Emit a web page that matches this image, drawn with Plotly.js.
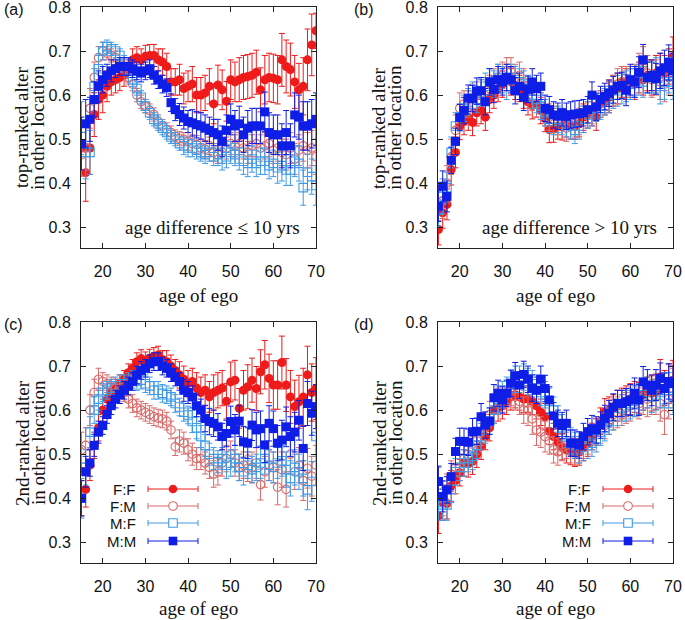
<!DOCTYPE html>
<html>
<head>
<meta charset="utf-8">
<script src="https://cdn.plot.ly/plotly-3.0.1.min.js"></script>
<style>html,body{margin:0;padding:0;background:#fff;}#chart{width:685px;height:620px;}</style>
</head>
<body>
<div id="chart"></div>
<script>
// ---------------- data ----------------
const ages = [15,16,17,18,19,20,21,22,23,24,25,26,27,28,29,30,31,32,33,34,35,36,37,38,39,40,41,42,43,44,45,46,47,48,49,50,51,52,53,54,55,56,57,58,59,60,61,62,63,64,65,66,67,68,69,70];
const seriesNames = ["F:F","F:M","M:F","M:M"];
const yTicks = [0.3,0.4,0.5,0.6,0.7,0.8];
const xTicks = [20,30,40,50,60,70];

// (a) top-ranked, age difference <= 10 yrs
const A_FF = [0.48,0.424,0.48,0.556,0.59,0.60,0.62,0.63,0.635,0.64, 0.645,0.655,0.68,0.685,0.68,0.688,0.69,0.69,0.68,0.675, 0.665,0.63,0.63,0.635,0.615,0.62,0.625,0.60,0.60,0.605, 0.62,0.58,0.623,0.612,0.586,0.635,0.63,0.635,0.64,0.642, 0.645,0.652,0.612,0.635,0.64,0.638,0.635,0.68,0.665,0.658, 0.63,0.612,0.62,0.68,0.714,0.746];
const A_FM = [0.465,0.48,0.57,0.64,0.685,0.70,0.695,0.69,0.685,0.67, 0.66,0.64,0.625,0.60,0.585,0.575,0.565,0.556,0.54,0.53, 0.522,0.515,0.506,0.502,0.50,0.495,0.49,0.488,0.48,0.477, 0.485,0.47,0.465,0.47,0.48,0.49,0.485,0.49,0.48,0.47, 0.485,0.49,0.48,0.485,0.49,0.475,0.48,0.47,0.465,0.48, 0.455,0.475,0.485,0.475,0.48,0.46];
const A_MF = [0.525,0.47,0.47,0.62,0.66,0.70,0.71,0.705,0.70,0.69, 0.675,0.655,0.635,0.615,0.595,0.575,0.56,0.545,0.535,0.525, 0.515,0.505,0.50,0.49,0.485,0.48,0.48,0.475,0.47,0.465, 0.47,0.46,0.465,0.455,0.46,0.47,0.465,0.455,0.45,0.445, 0.455,0.445,0.45,0.45,0.44,0.445,0.435,0.44,0.43,0.43, 0.45,0.445,0.39,0.425,0.415,0.395];
const A_MM = [0.49,0.535,0.545,0.59,0.62,0.635,0.645,0.655,0.66,0.665, 0.665,0.665,0.66,0.655,0.65,0.655,0.66,0.645,0.635,0.625, 0.617,0.583,0.567,0.556,0.548,0.54,0.537,0.533,0.53,0.525, 0.52,0.515,0.51,0.495,0.52,0.545,0.53,0.535,0.51,0.525, 0.53,0.53,0.53,0.562,0.515,0.51,0.51,0.485,0.515,0.485, 0.555,0.55,0.53,0.53,0.535,0.545];
const A_FF_e = [0.06,0.065,0.06,0.05,0.045,0.04,0.035,0.03,0.03,0.03, 0.025,0.025,0.025,0.025,0.025,0.025,0.025,0.025,0.025,0.03, 0.03,0.03,0.03,0.035,0.035,0.035,0.04,0.04,0.04,0.04, 0.04,0.045,0.045,0.045,0.045,0.045,0.045,0.05,0.05,0.05, 0.05,0.05,0.05,0.055,0.055,0.055,0.055,0.06,0.06,0.06, 0.06,0.06,0.065,0.07,0.07,0.04];
const A_FM_e = [0.05,0.05,0.045,0.035,0.025,0.02,0.015,0.015,0.015,0.015, 0.015,0.015,0.015,0.015,0.015,0.015,0.015,0.015,0.015,0.015, 0.015,0.015,0.015,0.015,0.015,0.02,0.02,0.02,0.02,0.02, 0.02,0.02,0.02,0.025,0.025,0.025,0.025,0.025,0.025,0.025, 0.025,0.03,0.03,0.03,0.03,0.03,0.03,0.03,0.035,0.035, 0.035,0.035,0.035,0.04,0.04,0.04];
const A_MF_e = [0.06,0.06,0.05,0.04,0.03,0.02,0.015,0.015,0.015,0.015, 0.015,0.015,0.015,0.015,0.015,0.015,0.015,0.015,0.015,0.015, 0.015,0.015,0.015,0.015,0.02,0.02,0.02,0.02,0.02,0.02, 0.02,0.02,0.025,0.025,0.025,0.025,0.025,0.025,0.03,0.03, 0.03,0.03,0.03,0.03,0.03,0.03,0.035,0.035,0.035,0.035, 0.035,0.04,0.04,0.04,0.04,0.045];
const A_MM_e = [0.06,0.055,0.05,0.04,0.035,0.03,0.025,0.025,0.02,0.02, 0.02,0.02,0.02,0.02,0.02,0.02,0.02,0.02,0.02,0.02, 0.02,0.02,0.025,0.025,0.025,0.025,0.03,0.03,0.03,0.03, 0.03,0.03,0.035,0.035,0.035,0.035,0.035,0.04,0.04,0.04, 0.04,0.04,0.04,0.045,0.045,0.045,0.045,0.05,0.05,0.05, 0.05,0.05,0.055,0.055,0.055,0.06];

// (b) top-ranked, age difference > 10 yrs
const B_FF = [0.295,0.333,0.352,0.431,0.47,0.529,0.54,0.55,0.538,0.56, 0.565,0.55,0.59,0.60,0.615,0.625,0.64,0.63,0.62,0.615, 0.60,0.585,0.576,0.58,0.565,0.547,0.522,0.523,0.53,0.528, 0.535,0.53,0.53,0.535,0.55,0.555,0.56,0.55,0.58,0.585, 0.595,0.61,0.615,0.63,0.625,0.63,0.625,0.64,0.635,0.645, 0.64,0.65,0.655,0.65,0.665,0.687];
const B_FM = [0.355,0.36,0.40,0.46,0.52,0.57,0.58,0.58,0.595,0.60, 0.605,0.61,0.615,0.63,0.64,0.645,0.655,0.655,0.64,0.645, 0.63,0.60,0.595,0.58,0.575,0.56,0.55,0.545,0.54,0.53, 0.525,0.53,0.535,0.54,0.545,0.555,0.565,0.575,0.58,0.59, 0.60,0.61,0.625,0.63,0.63,0.625,0.635,0.66,0.67,0.65, 0.635,0.64,0.63,0.625,0.64,0.66];
const B_MF = [0.34,0.37,0.39,0.47,0.53,0.55,0.57,0.585,0.60,0.59, 0.605,0.62,0.63,0.625,0.64,0.635,0.62,0.64,0.635,0.63, 0.625,0.615,0.60,0.59,0.575,0.56,0.545,0.54,0.545,0.54, 0.535,0.53,0.52,0.53,0.545,0.555,0.56,0.57,0.575,0.585, 0.59,0.60,0.61,0.615,0.62,0.625,0.63,0.635,0.63,0.64, 0.64,0.645,0.62,0.63,0.645,0.63];
const B_MM = [0.348,0.393,0.37,0.452,0.495,0.549,0.565,0.593,0.592,0.609, 0.61,0.585,0.63,0.613,0.635,0.63,0.64,0.635,0.61,0.62, 0.595,0.613,0.63,0.615,0.62,0.57,0.567,0.555,0.552,0.56, 0.552,0.555,0.557,0.558,0.56,0.567,0.60,0.573,0.59,0.597, 0.604,0.612,0.62,0.622,0.611,0.635,0.63,0.652,0.68,0.64, 0.645,0.637,0.655,0.662,0.674,0.655];
const B_FF_e = [0.035,0.035,0.035,0.035,0.035,0.03,0.03,0.03,0.03,0.03, 0.03,0.03,0.03,0.03,0.03,0.03,0.03,0.03,0.03,0.03, 0.03,0.03,0.03,0.03,0.03,0.03,0.03,0.03,0.03,0.03, 0.03,0.03,0.03,0.03,0.03,0.03,0.03,0.03,0.03,0.03, 0.035,0.035,0.035,0.035,0.035,0.035,0.035,0.035,0.035,0.035, 0.04,0.04,0.04,0.04,0.04,0.045];
const B_FM_e = [0.04,0.04,0.04,0.04,0.035,0.035,0.03,0.03,0.03,0.03, 0.03,0.03,0.03,0.03,0.03,0.03,0.03,0.03,0.03,0.03, 0.03,0.03,0.03,0.03,0.03,0.03,0.03,0.03,0.03,0.03, 0.03,0.03,0.03,0.03,0.03,0.03,0.03,0.03,0.03,0.03, 0.035,0.035,0.035,0.035,0.035,0.035,0.035,0.035,0.04,0.04, 0.04,0.04,0.04,0.04,0.04,0.045];
const B_MF_e = [0.04,0.04,0.035,0.035,0.03,0.03,0.03,0.03,0.03,0.03, 0.03,0.03,0.03,0.03,0.03,0.03,0.03,0.03,0.03,0.03, 0.03,0.03,0.03,0.03,0.03,0.03,0.03,0.03,0.03,0.03, 0.03,0.03,0.03,0.03,0.03,0.03,0.03,0.03,0.03,0.03, 0.03,0.03,0.035,0.035,0.035,0.035,0.035,0.035,0.035,0.035, 0.035,0.04,0.04,0.04,0.04,0.04];
const B_MM_e = [0.035,0.035,0.035,0.03,0.03,0.03,0.03,0.03,0.03,0.03, 0.03,0.03,0.03,0.03,0.03,0.03,0.03,0.03,0.03,0.03, 0.03,0.03,0.03,0.03,0.03,0.03,0.03,0.03,0.03,0.03, 0.03,0.03,0.03,0.03,0.03,0.03,0.03,0.03,0.03,0.03, 0.03,0.03,0.03,0.03,0.035,0.035,0.035,0.035,0.035,0.035, 0.035,0.035,0.04,0.04,0.04,0.04];

// (c) 2nd-ranked, age difference <= 10 yrs
const C_FF = [0.40,0.42,0.475,0.52,0.56,0.60,0.625,0.64,0.65,0.66, 0.67,0.685,0.695,0.71,0.717,0.712,0.718,0.722,0.725,0.715, 0.71,0.70,0.69,0.68,0.67,0.66,0.665,0.65,0.64,0.645, 0.63,0.64,0.645,0.65,0.62,0.664,0.668,0.604,0.645,0.653, 0.668,0.649,0.687,0.703,0.672,0.657,0.657,0.708,0.657,0.63, 0.608,0.619,0.63,0.68,0.64,0.649];
const C_FM = [0.51,0.52,0.60,0.64,0.67,0.665,0.66,0.655,0.65,0.645, 0.64,0.625,0.615,0.605,0.60,0.595,0.59,0.585,0.582,0.58, 0.575,0.555,0.517,0.53,0.525,0.51,0.50,0.49,0.49,0.48, 0.47,0.455,0.46,0.48,0.49,0.50,0.48,0.47,0.475,0.468, 0.47,0.48,0.431,0.46,0.475,0.47,0.425,0.465,0.42,0.50, 0.46,0.475,0.44,0.468,0.45,0.475];
const C_MF = [0.40,0.47,0.55,0.60,0.625,0.64,0.645,0.65,0.655,0.66, 0.66,0.665,0.67,0.665,0.668,0.66,0.655,0.645,0.645,0.638, 0.635,0.63,0.615,0.607,0.595,0.589,0.574,0.56,0.54,0.52, 0.50,0.49,0.483,0.49,0.475,0.48,0.49,0.47,0.46,0.475, 0.465,0.47,0.48,0.49,0.475,0.47,0.48,0.485,0.465,0.445, 0.47,0.46,0.445,0.419,0.438,0.54];
const C_MM = [0.40,0.46,0.48,0.52,0.55,0.565,0.59,0.61,0.625,0.635, 0.645,0.655,0.665,0.68,0.69,0.695,0.705,0.71,0.71,0.70, 0.695,0.685,0.675,0.665,0.645,0.64,0.63,0.61,0.60,0.581, 0.574,0.57,0.562,0.54,0.547,0.574,0.555,0.575,0.528,0.525, 0.566,0.555,0.558,0.521,0.57,0.558,0.525,0.532,0.562,0.54, 0.55,0.577,0.513,0.615,0.593,0.608];
const C_FF_e = [0.04,0.04,0.035,0.03,0.03,0.025,0.025,0.02,0.02,0.02, 0.02,0.02,0.02,0.02,0.02,0.02,0.02,0.02,0.02,0.02, 0.025,0.025,0.025,0.03,0.03,0.03,0.03,0.035,0.035,0.035, 0.035,0.04,0.04,0.04,0.04,0.045,0.045,0.045,0.045,0.05, 0.05,0.05,0.05,0.055,0.055,0.055,0.055,0.06,0.06,0.06, 0.06,0.06,0.065,0.065,0.065,0.07];
const C_FM_e = [0.04,0.04,0.035,0.03,0.025,0.02,0.02,0.02,0.02,0.02, 0.02,0.02,0.02,0.02,0.02,0.02,0.02,0.02,0.02,0.02, 0.02,0.02,0.02,0.025,0.025,0.025,0.025,0.025,0.025,0.025, 0.025,0.03,0.03,0.03,0.03,0.03,0.03,0.03,0.03,0.03, 0.035,0.035,0.035,0.035,0.035,0.035,0.04,0.04,0.04,0.04, 0.04,0.04,0.045,0.045,0.045,0.045];
const C_MF_e = [0.045,0.04,0.035,0.03,0.025,0.02,0.02,0.02,0.02,0.02, 0.02,0.02,0.02,0.02,0.02,0.02,0.02,0.02,0.02,0.02, 0.02,0.02,0.02,0.02,0.02,0.02,0.025,0.025,0.025,0.025, 0.025,0.025,0.025,0.025,0.03,0.03,0.03,0.03,0.03,0.03, 0.03,0.03,0.035,0.035,0.035,0.035,0.035,0.035,0.04,0.04, 0.04,0.04,0.04,0.045,0.045,0.045];
const C_MM_e = [0.04,0.035,0.03,0.025,0.025,0.02,0.02,0.02,0.02,0.02, 0.02,0.02,0.02,0.02,0.02,0.02,0.02,0.02,0.02,0.02, 0.02,0.02,0.02,0.02,0.025,0.025,0.025,0.025,0.025,0.03, 0.03,0.03,0.03,0.03,0.03,0.035,0.035,0.035,0.035,0.035, 0.035,0.04,0.04,0.04,0.04,0.04,0.04,0.045,0.045,0.045, 0.045,0.045,0.05,0.05,0.05,0.05];

// (d) 2nd-ranked, age difference > 10 yrs
const D_FF = [0.36,0.39,0.388,0.428,0.44,0.458,0.48,0.478,0.484,0.50, 0.518,0.54,0.56,0.60,0.605,0.61,0.62,0.63,0.635,0.63, 0.625,0.625,0.62,0.61,0.595,0.585,0.552,0.54,0.528,0.517, 0.51,0.506,0.502,0.505,0.515,0.525,0.54,0.551,0.575,0.596, 0.60,0.605,0.61,0.615,0.62,0.625,0.63,0.628,0.635,0.64, 0.638,0.642,0.675,0.65,0.66,0.668];
const D_FM = [0.43,0.40,0.42,0.45,0.47,0.47,0.49,0.50,0.51,0.53, 0.55,0.56,0.59,0.60,0.62,0.625,0.635,0.64,0.63,0.62, 0.60,0.60,0.58,0.555,0.55,0.54,0.53,0.51,0.505,0.515, 0.52,0.51,0.505,0.51,0.52,0.53,0.54,0.55,0.555,0.565, 0.575,0.59,0.595,0.60,0.605,0.61,0.62,0.615,0.63,0.625, 0.63,0.63,0.615,0.59,0.625,0.65];
const D_MF = [0.39,0.385,0.385,0.42,0.46,0.47,0.48,0.49,0.495,0.52, 0.54,0.555,0.575,0.60,0.625,0.635,0.645,0.66,0.67,0.67, 0.675,0.665,0.66,0.65,0.64,0.635,0.62,0.60,0.58,0.56, 0.545,0.53,0.52,0.51,0.515,0.52,0.525,0.535,0.55,0.56, 0.575,0.585,0.595,0.605,0.61,0.615,0.62,0.625,0.635,0.64, 0.63,0.635,0.64,0.645,0.645,0.63];
const D_MM = [0.438,0.404,0.419,0.449,0.506,0.529,0.529,0.527,0.551,0.552, 0.585,0.566,0.575,0.628,0.638,0.623,0.638,0.661,0.678,0.657, 0.681,0.67,0.65,0.645,0.67,0.649,0.623,0.587,0.57,0.565, 0.57,0.525,0.525,0.521,0.54,0.551,0.558,0.555,0.566,0.581, 0.592,0.607,0.615,0.615,0.619,0.623,0.638,0.623,0.664,0.657, 0.645,0.657,0.672,0.649,0.665,0.66];
const D_FF_e = [0.04,0.04,0.035,0.035,0.03,0.03,0.03,0.03,0.03,0.03, 0.03,0.03,0.03,0.03,0.03,0.03,0.03,0.03,0.03,0.03, 0.03,0.03,0.03,0.03,0.03,0.03,0.03,0.03,0.03,0.03, 0.03,0.03,0.03,0.03,0.03,0.03,0.03,0.03,0.03,0.03, 0.03,0.03,0.035,0.035,0.035,0.035,0.035,0.035,0.035,0.035, 0.04,0.04,0.04,0.04,0.045,0.045];
const D_FM_e = [0.04,0.04,0.035,0.035,0.03,0.03,0.03,0.03,0.03,0.03, 0.03,0.03,0.03,0.03,0.03,0.03,0.03,0.03,0.03,0.03, 0.03,0.035,0.035,0.035,0.035,0.035,0.03,0.03,0.03,0.03, 0.03,0.03,0.03,0.03,0.03,0.03,0.03,0.03,0.03,0.03, 0.03,0.035,0.035,0.035,0.035,0.035,0.035,0.035,0.04,0.04, 0.04,0.04,0.04,0.045,0.045,0.045];
const D_MF_e = [0.04,0.035,0.035,0.03,0.03,0.03,0.03,0.03,0.03,0.03, 0.03,0.03,0.03,0.03,0.03,0.03,0.03,0.03,0.03,0.03, 0.03,0.03,0.03,0.03,0.03,0.03,0.03,0.03,0.03,0.03, 0.03,0.03,0.03,0.03,0.03,0.03,0.03,0.03,0.03,0.03, 0.03,0.03,0.03,0.03,0.035,0.035,0.035,0.035,0.035,0.035, 0.035,0.035,0.035,0.04,0.04,0.04];
const D_MM_e = [0.035,0.035,0.03,0.03,0.03,0.03,0.03,0.03,0.03,0.03, 0.03,0.03,0.03,0.03,0.03,0.03,0.03,0.03,0.03,0.03, 0.03,0.03,0.03,0.03,0.03,0.03,0.03,0.03,0.03,0.03, 0.03,0.03,0.03,0.03,0.03,0.03,0.03,0.03,0.03,0.03, 0.03,0.03,0.03,0.03,0.03,0.035,0.035,0.035,0.035,0.035, 0.035,0.035,0.035,0.035,0.04,0.04];

// ---------------- styles ----------------
const W = 685, H = 620;
const styles = [
  {color:'#ee1b1b', symbol:'circle', fill:true},
  {color:'#d86a6a', symbol:'circle-open', fill:false},
  {color:'#3f9ae6', symbol:'square-open', fill:false},
  {color:'#0e1ee6', symbol:'square', fill:true}
];
const panels = [
  {xa:'x',  ya:'y',  data:[A_FF,A_FM,A_MF,A_MM], err:[A_FF_e,A_FM_e,A_MF_e,A_MM_e]},
  {xa:'x2', ya:'y2', data:[B_FF,B_FM,B_MF,B_MM], err:[B_FF_e,B_FM_e,B_MF_e,B_MM_e]},
  {xa:'x3', ya:'y3', data:[C_FF,C_FM,C_MF,C_MM], err:[C_FF_e,C_FM_e,C_MF_e,C_MM_e]},
  {xa:'x4', ya:'y4', data:[D_FF,D_FM,D_MF,D_MM], err:[D_FF_e,D_FM_e,D_MF_e,D_MM_e]}
];

const traces = [];
panels.forEach(p => {
  p.data.forEach((vals, i) => {
    const s = styles[i];
    traces.push({
      type:'scatter', mode:'markers', x:ages, y:vals, name:seriesNames[i],
      xaxis:p.xa, yaxis:p.ya, showlegend:false, cliponaxis:true,
      marker:{symbol:s.symbol, size:s.fill?9:8.5, color:s.color, line:{color:s.color, width:s.fill?0:1.1}},
      error_y:{type:'data', array:p.err[i], visible:true, color:s.color, thickness:1, width:3}
    });
  });
});

// ---------------- layout ----------------
const px = v => v / W;
const py = v => 1 - v / H;
const xDomL = [px(81), px(316)], xDomR = [px(438), px(673)];
const yDomT = [py(248), py(7)], yDomB = [py(563), py(322)];

function xax(dom, anchor){
  return {domain:dom, anchor:anchor, range:[14.9,70], tickvals:xTicks, ticks:'inside', ticklen:5,
    tickcolor:'#222', showline:true, linecolor:'#222', linewidth:1, mirror:'ticks', showgrid:false, zeroline:false,
    tickfont:{family:'Liberation Sans, Arial, sans-serif', size:16, color:'#111'}, ticklabelstandoff:9,
    ticklabeloverflow:'allow'};
}
function yax(dom, anchor){
  return {domain:dom, anchor:anchor, range:[0.253,0.8], tickvals:yTicks, ticktext:yTicks.map(v=>v.toFixed(1)),
    ticks:'inside', ticklen:5, tickcolor:'#222', showline:true, linecolor:'#222', linewidth:1, mirror:'ticks',
    showgrid:false, zeroline:false, tickfont:{family:'Liberation Sans, Arial, sans-serif', size:16, color:'#111'},
    ticklabelstandoff:6, ticklabeloverflow:'allow'};
}

const serif = 'Liberation Serif, Times New Roman, serif';
const sans = 'Liberation Sans, Arial, sans-serif';
const annotations = [];
const shapes = [];
function ann(text, x, y, opts){
  annotations.push(Object.assign({text:text, x:px(x), y:py(y), xref:'paper', yref:'paper', showarrow:false,
    xanchor:'center', yanchor:'middle', font:{family:serif, size:19, color:'#111'}}, opts||{}));
}
// panel letters
[['(a)',2,9],['(b)',352,9],['(c)',2,324],['(d)',352,324]].forEach(a=>ann(a[0],a[1],a[2],{xanchor:'left',font:{family:sans,size:16,color:'#111'}}));
// x titles
[[198,295],[555,295],[198,608],[555,608]].forEach(a=>ann('age of ego',a[0],a[1]));
// y titles
const yt = [['top-ranked alter','in other location',0,128],['top-ranked alter','in other location',357,128],
            ['2nd-ranked alter','in other location',0,443],['2nd-ranked alter','in other location',357,443]];
yt.forEach(t=>{ ann(t[0], t[2]+22, t[3], {textangle:-90}); ann(t[1], t[2]+38, t[3], {textangle:-90}); });
// in-panel notes
ann('age difference \u2264 10 yrs', 302, 228, {xanchor:'right'});
ann('age difference > 10 yrs', 659, 228, {xanchor:'right'});

// legends (c) and (d)
function legend(textRight, lx0, lx1, mx, rows){
  rows.forEach((ry, i) => {
    const s = styles[i];
    ann(seriesNames[i], textRight, ry, {xanchor:'right', borderpad:0, font:{family:sans, size:15, color:'#111'}});
    shapes.push({type:'line', xref:'paper', yref:'paper', x0:px(lx0), x1:px(lx1), y0:py(ry), y1:py(ry), line:{color:s.color, width:1}});
    [lx0, lx1].forEach(cx => shapes.push({type:'line', xref:'paper', yref:'paper', x0:px(cx), x1:px(cx), y0:py(ry-3), y1:py(ry+3), line:{color:s.color, width:1}}));
    const r = 4.3;
    shapes.push({type:(s.symbol.indexOf('circle')===0?'circle':'rect'), xref:'paper', yref:'paper',
      x0:px(mx-r), x1:px(mx+r), y0:py(ry+r), y1:py(ry-r),
      fillcolor:s.fill?s.color:'#ffffff', line:{color:s.color, width:s.fill?0:1.1}});
  });
}
legend(137, 148, 198, 173, [489, 506, 523, 541]);
legend(592, 603, 653, 628, [489, 506, 523, 541]);

const layout = {
  width:W, height:H, margin:{l:0,r:0,t:0,b:0}, paper_bgcolor:'#fff', plot_bgcolor:'#fff', showlegend:false,
  xaxis:xax(xDomL,'y'), yaxis:yax(yDomT,'x'),
  xaxis2:xax(xDomR,'y2'), yaxis2:yax(yDomT,'x2'),
  xaxis3:xax(xDomL,'y3'), yaxis3:yax(yDomB,'x3'),
  xaxis4:xax(xDomR,'y4'), yaxis4:yax(yDomB,'x4'),
  annotations:annotations, shapes:shapes
};
Plotly.newPlot('chart', traces, layout, {staticPlot:true, displayModeBar:false});
</script>
</body>
</html>
